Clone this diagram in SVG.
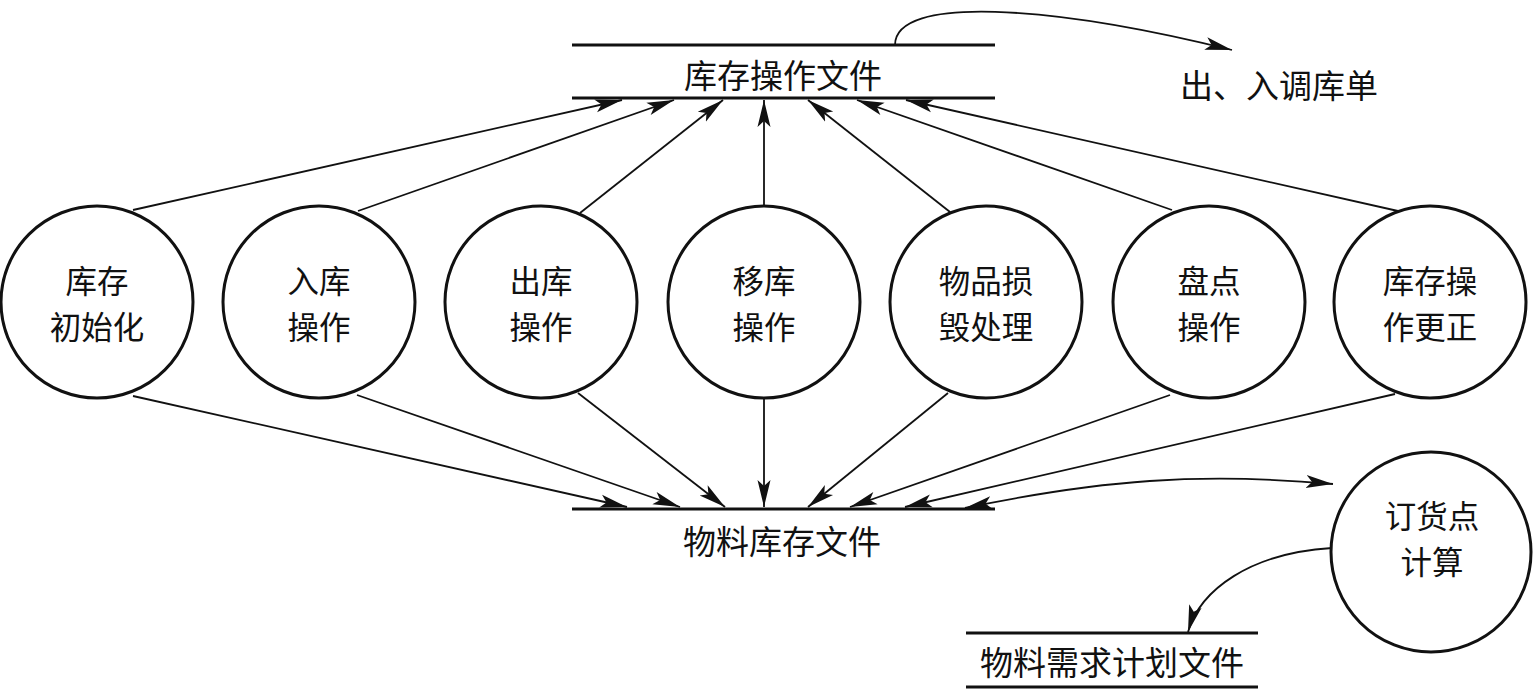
<svg xmlns="http://www.w3.org/2000/svg" width="1534" height="689" viewBox="0 0 1534 689">
<style>
.t{font-family:"Noto Sans CJK SC","Noto Sans CJK JP",sans-serif;font-size:33px;fill:#111;text-anchor:middle;dominant-baseline:central}
.n{font-size:31.5px}
.node{fill:#fff;stroke:#111;stroke-width:3}
.store{stroke:#111;stroke-width:3;fill:none}
.c{stroke:#111;stroke-width:1.8;fill:none;marker-end:url(#ah)}
</style>
<defs>
<marker id="ah" markerUnits="userSpaceOnUse" markerWidth="28" markerHeight="16" viewBox="0 0 28 16" refX="27" refY="8" orient="auto-start-reverse">
<path d="M0,1.5 L27,8 L0,14.5 L6,8 Z" fill="#111"/>
</marker>
</defs>
<rect width="1534" height="689" fill="#fff"/>
<g id="connectors">
<line class="c" x1="133" y1="210" x2="622" y2="100"/>
<line class="c" x1="358" y1="211" x2="674" y2="100"/>
<line class="c" x1="580" y1="213" x2="723" y2="100"/>
<line class="c" x1="764" y1="205" x2="764" y2="100"/>
<line class="c" x1="950" y1="212" x2="808" y2="100"/>
<line class="c" x1="1172" y1="210" x2="857" y2="100"/>
<line class="c" x1="1398" y1="211" x2="906" y2="100"/>
<line class="c" x1="133" y1="396" x2="627" y2="507"/>
<line class="c" x1="357" y1="395" x2="680" y2="507"/>
<line class="c" x1="578" y1="393" x2="725" y2="507"/>
<line class="c" x1="764" y1="399" x2="764" y2="507"/>
<line class="c" x1="948" y1="393" x2="808" y2="507"/>
<line class="c" x1="1170" y1="395" x2="850" y2="507"/>
<line class="c" x1="1395" y1="394" x2="905" y2="507"/>
<path class="c" d="M895,45 C895,-5 1050,5 1232,50"/>
<path class="c" style="marker-start:url(#ah)" d="M965,508 C1100,480 1200,472 1333,484"/>
<path class="c" d="M1332,548 C1250,553 1200,590 1188,632"/>
</g>
<g id="store-ops">
<line class="store" x1="572" y1="45" x2="995" y2="45"/>
<line class="store" x1="572" y1="98" x2="995" y2="98"/>
<text class="t" x="783" y="74">库存操作文件</text>
</g>
<g id="out-in-slip">
<text class="t" x="1279" y="84">出、入调库单</text>
</g>
<g id="store-material">
<line class="store" x1="572" y1="509" x2="995" y2="509"/>
<text class="t" x="782" y="540">物料库存文件</text>
</g>
<g id="store-mrp">
<line class="store" x1="966" y1="633" x2="1258" y2="633"/>
<line class="store" x1="966" y1="687" x2="1258" y2="687"/>
<text class="t" x="1112" y="661">物料需求计划文件</text>
</g>
<g id="n1"><circle class="node" cx="97" cy="302" r="96"/><text class="t n" x="97" y="279">库存</text><text class="t n" x="97" y="325">初始化</text></g>
<g id="n2"><circle class="node" cx="319" cy="302" r="96"/><text class="t n" x="319" y="279">入库</text><text class="t n" x="319" y="325">操作</text></g>
<g id="n3"><circle class="node" cx="541" cy="302" r="96"/><text class="t n" x="541" y="279">出库</text><text class="t n" x="541" y="325">操作</text></g>
<g id="n4"><circle class="node" cx="764" cy="302" r="96"/><text class="t n" x="764" y="279">移库</text><text class="t n" x="764" y="325">操作</text></g>
<g id="n5"><circle class="node" cx="986" cy="302" r="96"/><text class="t n" x="986" y="279">物品损</text><text class="t n" x="986" y="325">毁处理</text></g>
<g id="n6"><circle class="node" cx="1209" cy="302" r="96"/><text class="t n" x="1209" y="279">盘点</text><text class="t n" x="1209" y="325">操作</text></g>
<g id="n7"><circle class="node" cx="1430" cy="302" r="96"/><text class="t n" x="1430" y="279">库存操</text><text class="t n" x="1430" y="325">作更正</text></g>
<g id="n8"><circle class="node" cx="1431" cy="552" r="100"/><text class="t n" x="1432" y="514">订货点</text><text class="t n" x="1432" y="560">计算</text></g>
</svg>
